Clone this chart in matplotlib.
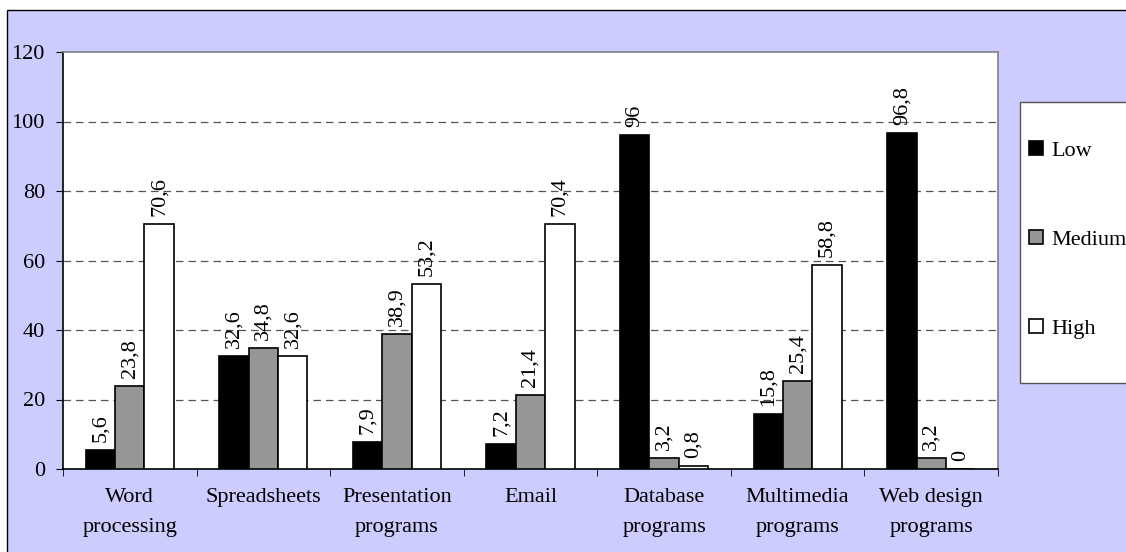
import matplotlib.pyplot as plt
import numpy as np
from matplotlib.patches import Rectangle

categories = ['Word\nprocessing', 'Spreadsheets', 'Presentation\nprograms', 'Email',
              'Database\nprograms', 'Multimedia\nprograms', 'Web design\nprograms']
series_names = ['Low', 'Medium', 'High']
low = [5.6, 32.6, 7.9, 7.2, 96, 15.8, 96.8]
medium = [23.8, 34.8, 38.9, 21.4, 3.2, 25.4, 3.2]
high = [70.6, 32.6, 53.2, 70.4, 0.8, 58.8, 0]
colors = ['#000000', '#969696', '#ffffff']

plt.rcParams['font.family'] = ['Liberation Serif', 'DejaVu Serif']
plt.rcParams['font.size'] = 16

W, H = 1126, 552
fig = plt.figure(figsize=(W / 100, H / 100), dpi=100, facecolor='white')
# lavender chart area with thin border
fig.patches.append(Rectangle((7 / W, -0.1), 1.2, 1 - 10 / H + 0.1, transform=fig.transFigure,
                             facecolor='#ccccff', edgecolor='black', linewidth=1.0, zorder=-10))
# legend box
fig.patches.append(Rectangle((1020 / W, 1 - 383 / H), 0.2, (383 - 102) / H, transform=fig.transFigure,
                             facecolor='white', edgecolor='#555555', linewidth=1.0, zorder=-5))

ax = fig.add_axes([63 / W, 1 - 469 / H, (998 - 63) / W, (469 - 52) / H])
ax.set_facecolor('white')

x = np.arange(len(categories))
w = 0.22
for i, (vals, c, name) in enumerate(zip([low, medium, high], colors, series_names)):
    pos = x + (i - 1) * w
    ax.bar(pos, vals, w, color=c, edgecolor='black', linewidth=1.2, label=name, zorder=3)
    for p, v in zip(pos, vals):
        txt = str(v).replace('.', ',')
        if txt.endswith(',0'):
            txt = txt[:-2]
        ax.text(p, v + 2.3, txt, rotation=90, ha='center', va='bottom', zorder=4)

ax.set_xlim(-0.5, len(categories) - 0.5)
ax.set_ylim(0, 120)
ax.set_yticks(range(0, 121, 20))
ax.set_xticks(x)
ax.set_xticklabels(categories, linespacing=1.75)
ax.set_xticks(np.arange(-0.5, len(categories), 1), minor=True)
ax.tick_params(axis='x', which='major', length=0, pad=14)
ax.tick_params(axis='x', which='minor', length=5, direction='out', color='black')
ax.tick_params(axis='y', length=5, direction='out', pad=8)
for t in ax.get_xticklabels():
    t.set_va('top')

for yv in range(20, 101, 20):
    ax.axhline(yv, color='#555555', linestyle=(0, (6, 4)), linewidth=0.9, zorder=1)

ax.spines['left'].set_color('black')
ax.spines['bottom'].set_color('black')
ax.spines['top'].set_color('#808080')
ax.spines['right'].set_color('#808080')
for s in ax.spines.values():
    s.set_linewidth(1.2)

leg = fig.legend(loc='center left', bbox_to_anchor=(1029 / W, 1 - 240 / H),
                 frameon=False, labelspacing=3.1, handlelength=0.62, handleheight=0.62,
                 handletextpad=0.4, borderpad=0, borderaxespad=0, fontsize=16)

fig.savefig('out.png', dpi=100, facecolor='white')
